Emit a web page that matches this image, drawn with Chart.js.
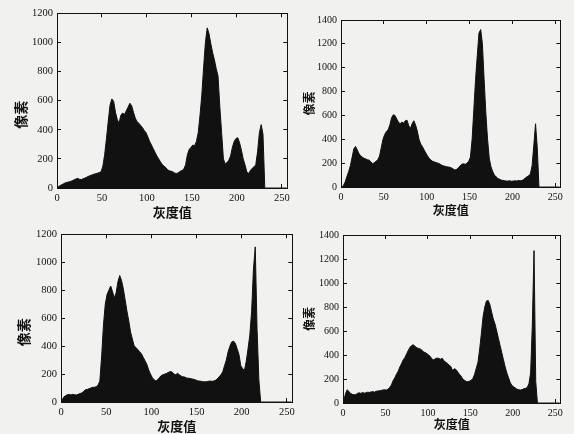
<!DOCTYPE html>
<html>
<head>
<meta charset="utf-8">
<script src="https://cdn.jsdelivr.net/npm/chart.js@4.4.1/dist/chart.umd.min.js"></script>
<style>
  html, body { margin: 0; padding: 0; background: #f1f1ef; overflow: hidden; }
  body { width: 574px; height: 434px; position: relative; }
  canvas { position: absolute; }
</style>
</head>
<body>
<canvas id="c1"></canvas>
<canvas id="c2"></canvas>
<canvas id="c3"></canvas>
<canvas id="c4"></canvas>
<script>
// ------------------------------------------------------
// @Data (gray levels binned in pairs: 0, 2, ... 254)
// ------------------------------------------------------

const grayLevels = [];
for (let g = 0; g < 256; g += 2) grayLevels.push(g);

const xTitle = '灰度值';
const yTitle = '像素';
const yMaxes = [1200, 1400, 1200, 1400];

const hist1 = [
  5, 15, 22, 28, 35, 38, 42, 45, 50, 56,
  62, 66, 60, 58, 63, 68, 74, 80, 86, 90,
  95, 98, 102, 106, 112, 150, 230, 340, 460, 570,
  612, 595, 520, 470, 445, 500, 515, 505, 530, 555,
  582, 565, 520, 480, 455, 445, 430, 415, 395, 380,
  350, 320, 295, 270, 245, 220, 200, 180, 162, 150,
  140, 125, 118, 115, 110, 102, 100, 105, 115, 120,
  130, 160, 230, 265, 280, 295, 290, 320, 380, 500,
  640, 830, 1000, 1100, 1060, 990, 930, 880, 820, 770,
  560, 380, 200, 165, 175, 190, 220, 280, 320, 340,
  345, 310, 260, 200, 160, 110, 100, 120, 135, 145,
  160, 250, 380, 435, 370, 0, 0, 0, 0, 0,
  0, 0, 0, 0, 0, 0, 0, 0,
];

const hist2 = [
  0, 15, 45, 90, 130, 180, 250, 320, 340, 310,
  280, 260, 250, 240, 235, 228, 225, 210, 195, 205,
  215, 230, 260, 330, 400, 440, 465, 480, 520, 580,
  605, 600, 570, 545, 530, 545, 535, 555, 560, 515,
  490, 530, 555, 520, 470, 400, 360, 340, 310, 285,
  260, 240, 225, 215, 210, 205, 200, 195, 185, 178,
  175, 170, 168, 165, 160, 150, 142, 148, 160, 178,
  190, 195, 190, 200, 215, 250, 400, 650, 900, 1100,
  1290, 1320, 1200, 900, 620, 400, 240, 170, 130, 100,
  85, 72, 65, 58, 55, 52, 50, 50, 52, 48,
  50, 52, 50, 55, 52, 55, 62, 75, 85, 95,
  110, 180, 350, 530, 330, 0, 0, 0, 0, 0,
  0, 0, 0, 0, 0, 0, 0, 0,
];

const hist3 = [
  10, 35, 45, 52, 55, 50, 55, 52, 50, 55,
  60, 65, 75, 88, 90, 95, 100, 105, 105, 110,
  120, 150, 330, 550, 700, 770, 800, 830, 790, 745,
  780, 860, 905, 870, 810, 730, 650, 580, 500, 450,
  400, 390, 375, 360, 345, 320, 295, 270, 230, 200,
  175, 160, 150, 160, 175, 190, 195, 200, 205, 212,
  218, 214, 200, 195, 205, 195, 185, 180, 178, 172,
  170, 168, 165, 162, 158, 152, 150, 148, 145, 145,
  145, 148, 150, 148, 150, 155, 165, 180, 195, 215,
  260, 300, 360, 400, 430, 435, 420, 380, 340, 260,
  240, 225, 290, 380, 480, 650, 950, 1110, 520, 160,
  0, 0, 0, 0, 0, 0, 0, 0, 0, 0,
  0, 0, 0, 0, 0, 0, 0, 0,
];

const hist4 = [
  20, 80, 110, 95, 80, 72, 68, 70, 80, 85,
  80, 88, 82, 85, 90, 88, 92, 95, 90, 98,
  100, 102, 105, 108, 110, 108, 115, 130, 150, 185,
  210, 240, 265, 300, 330, 360, 380, 410, 440, 465,
  480, 485, 470, 460, 455, 450, 440, 425, 420, 410,
  400, 385, 365, 360, 370, 375, 370, 365, 372, 350,
  340, 330, 315, 305, 270, 285, 280, 260, 240, 225,
  200, 190, 180, 178, 182, 190, 205, 240, 290, 340,
  450, 580, 720, 800, 850, 855, 820, 760, 700, 660,
  600, 540, 480, 420, 360, 300, 250, 210, 170, 145,
  135, 125, 115, 110, 108, 112, 118, 122, 130, 160,
  250, 650, 1270, 180, 0, 0, 0, 0, 0, 0,
  0, 0, 0, 0, 0, 0, 0, 0,
];

// ------------------------------------------------------
// @Layout
// ------------------------------------------------------

const INK = '#111111';
const SERIF = "'Liberation Serif', 'DejaVu Serif', serif";
const CJK = "'Noto Sans CJK SC', sans-serif";
const Y_AXIS_W = 50;
const X_AXIS_H = 34;

// canvas boxes: the plot area starts ~14px below the top (half tick label + padding)
const panels = [
  { id: 'c1', values: hist1, yMax: yMaxes[0], left: 7,   top: -1,  width: 291, height: 223,
    tickSize: 10.5, titleSize: 14, xTitleSize: 13, yPad: 5,  xPad: 2,  yShift: '　　' },
  { id: 'c2', values: hist2, yMax: yMaxes[1], left: 291, top: 6,   width: 280, height: 215,
    tickSize: 10, titleSize: 12, xTitleSize: 12, yPad: 11, xPad: 3,  yShift: '' },
  { id: 'c3', values: hist3, yMax: yMaxes[2], left: 11,  top: 220, width: 292, height: 216,
    tickSize: 10.5, titleSize: 14, xTitleSize: 13, yPad: 4,  xPad: 2,  yShift: '　　' },
  { id: 'c4', values: hist4, yMax: yMaxes[3], left: 293, top: 221, width: 278, height: 216,
    tickSize: 10, titleSize: 12, xTitleSize: 12, yPad: 9,  xPad: 5,  yShift: '' },
];

function frameAxis(position, max, step, size, extra) {
  return Object.assign({
    type: 'linear',
    axis: position === 'top' || position === 'bottom' ? 'x' : 'y',
    position: position,
    min: 0,
    max: max,
    offset: false,
    ticks: { stepSize: step, includeBounds: false, display: false },
    grid: { drawOnChartArea: false, offset: false, tickLength: -4, tickColor: INK, tickWidth: 1 },
    border: { color: INK, width: 1 },
    afterFit: (scale) => {
      if (scale.isHorizontal()) scale.height = size;
      else scale.width = size;
    },
  }, extra || {});
}

panels.forEach((p) => {
  const canvas = document.getElementById(p.id);
  canvas.width = p.width;
  canvas.height = p.height;
  canvas.style.left = p.left + 'px';
  canvas.style.top = p.top + 'px';

  new Chart(canvas.getContext('2d'), {
    type: 'line',
    data: {
      datasets: [{
        // one point in the middle of each two-level bin, area filled down to 0
        data            : grayLevels.map((g, i) => ({ x: g + 1, y: p.values[i] })),
        fill            : 'origin',
        backgroundColor : INK,
        borderColor     : INK,
        borderWidth     : 1,
        tension         : 0,
        pointRadius     : 0,
      }],
    },
    options: {
      responsive: false,
      animation: false,
      layout: { padding: { top: 0, right: 10, left: 0, bottom: 0 } },
      plugins: { legend: { display: false }, tooltip: { enabled: false } },
      scales: {
        x: frameAxis('bottom', 256, 50, X_AXIS_H, {
          ticks: {
            stepSize: 50, includeBounds: false, autoSkip: false, maxRotation: 0,
            padding: 8, color: INK, font: { family: SERIF, size: p.tickSize },
            callback: (v) => String(v),
          },
          title: {
            display: true, text: xTitle, color: INK,
            font: { family: CJK, size: p.xTitleSize, weight: 'bold' },
            padding: { top: 0, bottom: p.xPad },
          },
        }),
        x2: frameAxis('top', 256, 50, 0),
        y: frameAxis('left', p.yMax, 200, Y_AXIS_W, {
          ticks: {
            stepSize: 200, includeBounds: false, padding: 8, color: INK,
            font: { family: SERIF, size: p.tickSize },
            callback: (v) => String(v),
          },
          title: {
            display: true, text: yTitle + p.yShift, color: INK,
            font: { family: CJK, size: p.titleSize, weight: 'bold' },
            padding: { top: p.yPad, bottom: 0 },
          },
        }),
        y2: frameAxis('right', p.yMax, 200, 0),
      },
    },
  });
});
</script>
</body>
</html>
